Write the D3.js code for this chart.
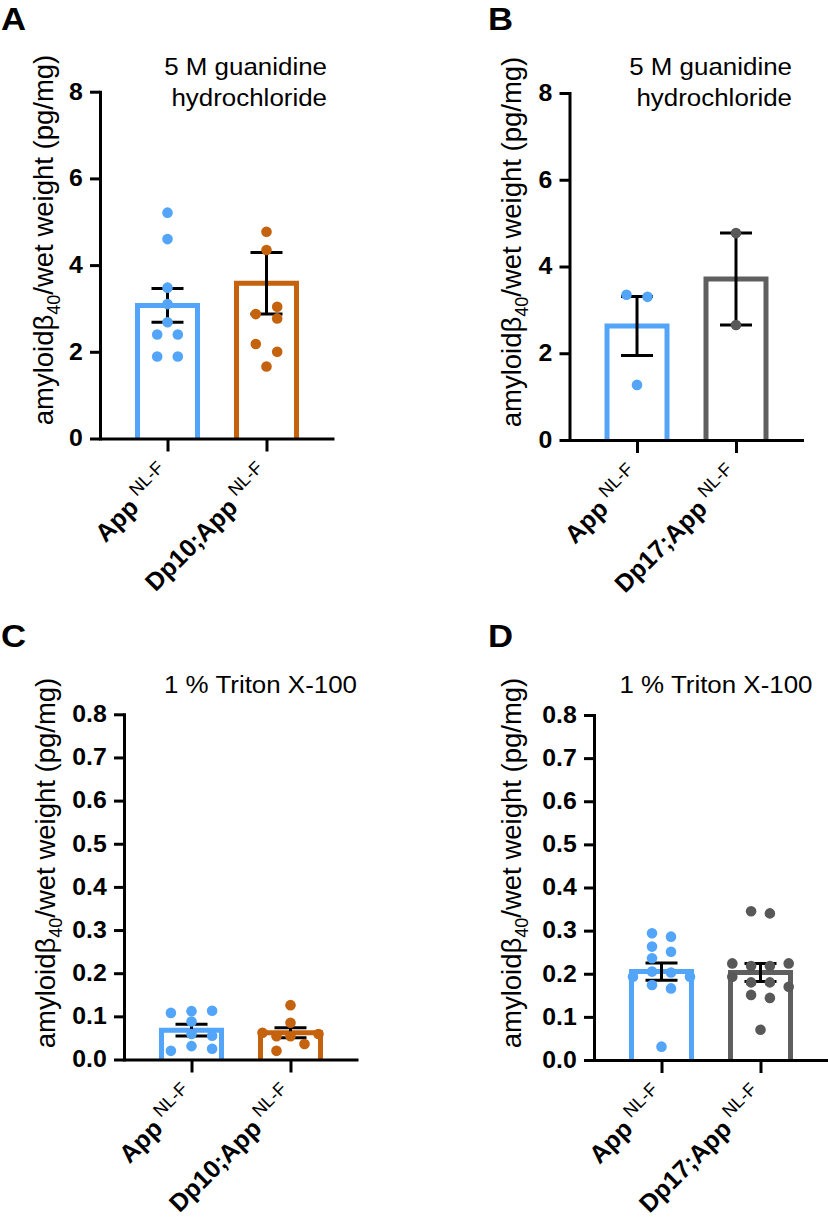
<!DOCTYPE html>
<html><head><meta charset="utf-8">
<script src="https://cdn.jsdelivr.net/npm/d3@7"></script>
<style>body{margin:0;background:#fff;} svg{display:block;}</style>
</head><body>
<svg id="chart" width="828" height="1219"></svg>
<script>
// ---------------- data ----------------
const groupsTen = ["App", "Dp10;App"];
const groupsSeventeen = ["App", "Dp17;App"];
const superscript = "NL-F";
const panelLetters = ["A", "B", "C", "D"];
const titleGuanidine = ["5 M guanidine", "hydrochloride"];
const titleTriton = ["1 % Triton X-100"];
const yTicksTop = [0, 2, 4, 6, 8];
const yTicksBottom = [0, 0.1, 0.2, 0.3, 0.4, 0.5, 0.6, 0.7, 0.8];

// Panel A (guanidine, Dp10)
const meanA = [3.07, 3.58];
const semA = [0.39, 0.71];
const pointsA_App = [5.21, 4.60, 3.48, 3.10, 2.68, 2.40, 2.40, 1.89, 1.89];
const slotsA_App = [0, 0, 0, 0, 0, -1, 1, -1, 1];
const pointsA_Dp = [4.77, 4.35, 3.04, 2.87, 2.77, 2.18, 2.00, 1.66];
const slotsA_Dp = [0, 0, 1, -1, 1, -1, 1, 0];

// Panel B (guanidine, Dp17)
const meanB = [2.63, 3.71];
const semB = [0.68, 1.06];
const pointsB_App = [3.35, 3.30, 1.27];
const slotsB_App = [-1, 1, 0];
const pointsB_Dp = [4.77, 2.65];
const slotsB_Dp = [0, 0];

// Panel C (Triton, Dp10)
const meanC = [0.068, 0.062];
const semC = [0.0135, 0.0115];
const pointsC_App = [0.108, 0.112, 0.113, 0.088, 0.059, 0.055, 0.031, 0.020, 0.025];
const slotsC_App = [-2, 0, 2, 0, 0, 2, 0, -2, 2];
const pointsC_Dp = [0.126, 0.085, 0.062, 0.054, 0.054, 0.059, 0.036, 0.020];
const slotsC_Dp = [0, 0, -2, -1, 0, 2, 1, -1];

// Panel D (Triton, Dp17)
const meanD = [0.205, 0.203];
const semD = [0.020, 0.021];
const pointsD_App = [0.294, 0.286, 0.263, 0.251, 0.236, 0.205, 0.203, 0.193, 0.193, 0.174, 0.166, 0.031];
const slotsD_App = [-1, 1, -1, 1, -1, -1, 1, -3, 3, -1, 1, 0];
const pointsD_Dp = [0.345, 0.340, 0.224, 0.224, 0.218, 0.218, 0.193, 0.170, 0.180, 0.180, 0.151, 0.144, 0.070];
const slotsD_Dp = [-1, 1, -3, 3, -1, 1, -3, 3, -1, 1, -1, 1, 0];

// ---------------- styles ----------------
const BLUE = "#52a5f8", BROWN = "#c4620d", GRAY = "#5f5f5f", GRAYDOT = "#585858";
const FONT = "'Liberation Sans', Arial, Helvetica, sans-serif";
const SX = 1.08; // horizontal text stretch seen in reference

const svg = d3.select("#chart");
svg.append("rect").attr("width", 828).attr("height", 1219).attr("fill", "#fff");

function stretchedText(parent, x, y, str, o) {
  return parent.append("text")
    .attr("transform", `translate(${x},${y}) scale(${o.sx || SX},1)`)
    .attr("text-anchor", o.anchor || "start")
    .attr("font-family", FONT)
    .attr("font-size", o.size)
    .attr("font-weight", o.weight || "normal")
    .attr("fill", "#000")
    .text(str);
}

function drawPanel(cfg) {
  const g = svg.append("g");
  const axisLen = 234;
  const y = d3.scaleLinear().domain([0, cfg.ymax]).range([cfg.yBottom, cfg.yTop]);
  const x = d3.scalePoint().domain(cfg.groups).range([cfg.x0, cfg.x0 + axisLen]).padding(0.682);

  // panel letter
  stretchedText(g, cfg.letterX, cfg.letterY, cfg.letter, {size: 31, weight: "bold", sx: 1.12});
  // title
  cfg.title.forEach((t, i) => {
    stretchedText(g, cfg.titleX, cfg.titleY + i * 31, t, {size: 24, anchor: "end"});
  });

  // bars
  cfg.groups.forEach((grp, i) => {
    const cx = x(grp);
    const half = 30;
    g.append("path")
      .attr("d", `M${cx - half},${y(0)}V${y(cfg.means[i])}H${cx + half}V${y(0)}`)
      .attr("fill", "none").attr("stroke", cfg.colors[i]).attr("stroke-width", 5)
      .attr("stroke-linejoin", "miter");
  });

  // error bars
  cfg.groups.forEach((grp, i) => {
    const cx = x(grp);
    const lo = y(cfg.means[i] - cfg.sems[i]), hi = y(cfg.means[i] + cfg.sems[i]);
    const eb = g.append("g").attr("stroke", "#000").attr("stroke-width", 3);
    eb.append("line").attr("x1", cx).attr("x2", cx).attr("y1", lo).attr("y2", hi);
    eb.append("line").attr("x1", cx - 16).attr("x2", cx + 16).attr("y1", lo).attr("y2", lo);
    eb.append("line").attr("x1", cx - 16).attr("x2", cx + 16).attr("y1", hi).attr("y2", hi);
  });

  // points
  cfg.groups.forEach((grp, i) => {
    const cx = x(grp);
    g.append("g").selectAll("circle")
      .data(cfg.points[i].map((v, k) => ({v, s: cfg.slots[i][k]})))
      .join("circle")
      .attr("cx", d => cx + d.s * cfg.spacing[i])
      .attr("cy", d => y(d.v))
      .attr("r", 5.3)
      .attr("fill", cfg.dotColors[i]);
  });

  // y axis
  const ya = g.append("g").attr("transform", `translate(${cfg.x0},0)`)
    .call(d3.axisLeft(y).tickValues(cfg.ticks).tickSize(10).tickSizeOuter(0).tickPadding(6)
      .tickFormat(cfg.fmt));
  ya.select(".domain").attr("stroke-width", 3).attr("stroke-linecap", "square");
  ya.selectAll(".tick line").attr("stroke-width", 3);
  ya.selectAll(".tick text").attr("font-family", FONT).attr("font-size", 23)
    .attr("font-weight", "bold").attr("fill", "#000").attr("transform", `scale(${SX},1)`);

  // x axis
  const xa = g.append("g").attr("transform", `translate(0,${cfg.yBottom})`)
    .call(d3.axisBottom(x).tickSize(13).tickSizeOuter(0).tickFormat(""));
  xa.select(".domain").attr("stroke-width", 3);
  xa.selectAll(".tick line").attr("stroke-width", 3);

  // x labels rotated
  cfg.groups.forEach(grp => {
    const ax = x(grp) + 5, ay = cfg.yBottom + 38;
    const t = g.append("text")
      .attr("transform", `translate(${ax},${ay}) rotate(-45)`)
      .attr("text-anchor", "end")
      .attr("font-family", FONT).attr("fill", "#000");
    t.append("tspan").attr("font-size", 25).attr("font-weight", "bold").text(grp);
    t.append("tspan").attr("font-size", 18).attr("dx", 6).attr("dy", -11).text(superscript);
  });

  // y label
  const yl = g.append("text")
    .attr("transform", `translate(${cfg.ylabX},${cfg.ylabY}) rotate(-90)`)
    .attr("text-anchor", "middle").attr("font-family", FONT).attr("font-size", 27.5).attr("fill", "#000");
  yl.append("tspan").text("amyloidβ");
  yl.append("tspan").attr("font-size", 18).attr("dy", 7).text("40");
  yl.append("tspan").attr("dy", -7).text("/wet weight (pg/mg)");
}

drawPanel({
  letter: panelLetters[0], letterX: 1, letterY: 30,
  title: titleGuanidine, titleX: 327, titleY: 75,
  groups: groupsTen, ymax: 8, ticks: yTicksTop, fmt: d3.format("d"),
  x0: 100, yTop: 91.7, yBottom: 438.5,
  means: meanA, sems: semA, points: [pointsA_App, pointsA_Dp], slots: [slotsA_App, slotsA_Dp],
  spacing: [10.3, 10.7], colors: [BLUE, BROWN], dotColors: [BLUE, BROWN],
  ylabX: 53, ylabY: 240
});
drawPanel({
  letter: panelLetters[1], letterX: 488, letterY: 30,
  title: titleGuanidine, titleX: 792, titleY: 75,
  groups: groupsSeventeen, ymax: 8, ticks: yTicksTop, fmt: d3.format("d"),
  x0: 569.5, yTop: 93, yBottom: 440,
  means: meanB, sems: semB, points: [pointsB_App, pointsB_Dp], slots: [slotsB_App, slotsB_Dp],
  spacing: [10.5, 10], colors: [BLUE, GRAY], dotColors: [BLUE, GRAYDOT],
  ylabX: 521, ylabY: 242
});
drawPanel({
  letter: panelLetters[2], letterX: 1, letterY: 647,
  title: titleTriton, titleX: 357, titleY: 693,
  groups: groupsTen, ymax: 0.8, ticks: yTicksBottom, fmt: d3.format(".1f"),
  x0: 124, yTop: 714.3, yBottom: 1059.5,
  means: meanC, sems: semC, points: [pointsC_App, pointsC_Dp], slots: [slotsC_App, slotsC_Dp],
  spacing: [10.3, 14], colors: [BLUE, BROWN], dotColors: [BLUE, BROWN],
  ylabX: 55, ylabY: 863
});
drawPanel({
  letter: panelLetters[3], letterX: 488, letterY: 647,
  title: titleTriton, titleX: 812.5, titleY: 693,
  groups: groupsSeventeen, ymax: 0.8, ticks: yTicksBottom, fmt: d3.format(".1f"),
  x0: 594, yTop: 715, yBottom: 1060,
  means: meanD, sems: semD, points: [pointsD_App, pointsD_Dp], slots: [slotsD_App, slotsD_Dp],
  spacing: [9.5, 9.4], colors: [BLUE, GRAY], dotColors: [BLUE, GRAYDOT],
  ylabX: 521, ylabY: 863
});
</script>
</body></html>
